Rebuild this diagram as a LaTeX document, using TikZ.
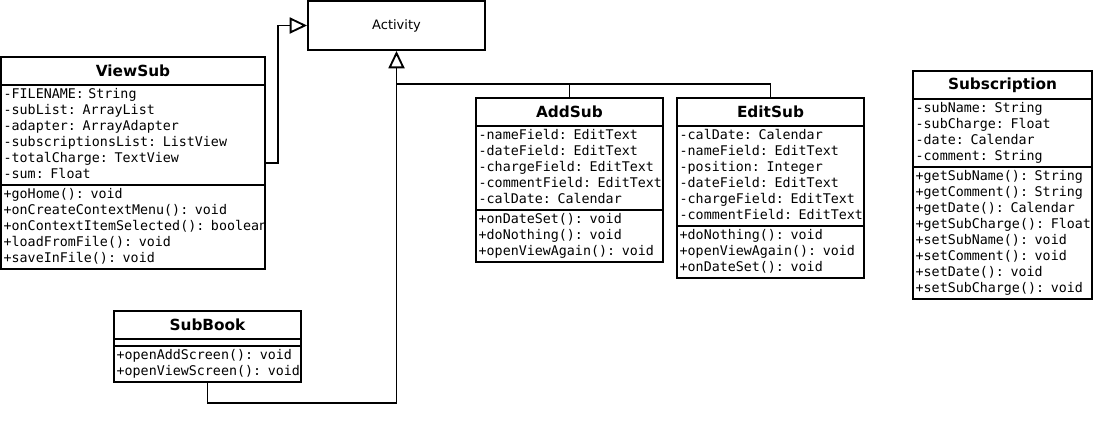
\documentclass[tikz,border=0pt]{standalone}
\usepackage{fontspec}
\setmainfont{DejaVu Sans}
\newfontfamily\umlmono[WordSpace={1,0,0}]{DejaVu Sans Mono}
\usetikzlibrary{positioning,arrows.meta,calc}

\tikzset{
  classname/.style={draw, line width=1.4pt, outer sep=0pt, inner sep=0pt, minimum width=#1, minimum height=21pt, font=\bfseries\fontsize{11.5}{13}\selectfont},
  members/.style={draw, line width=1.4pt, outer sep=0pt, inner xsep=2pt, inner ysep=1.5pt, text width=#1, align=left, font=\umlmono\fontsize{10}{12}\selectfont,
    execute at begin node={\strut\rightskip=0pt plus 1fil minus 2em\linepenalty=5000}, execute at end node=\strut},
  inherit/.style={line width=1.4pt, -{Triangle[open, length=13pt, width=12pt]}},
  link/.style={line width=1.4pt}
}

\begin{document}
\begin{tikzpicture}[x=0.75pt,y=-0.75pt]
    \useasboundingbox (0,0) rectangle (1093,436);
    % superclass
    \node[draw, line width=1.4pt, minimum width=132.75pt, minimum height=36.75pt, font=\fontsize{9.75}{12}\selectfont] (activity) at (396.5,25.5) {Activity};

    % ViewSub
    \node[classname=198pt, anchor=north west] (viewsub) at (1,57) {ViewSub};
    \node[members=194pt, below=0pt of viewsub] (viewsubAttr) {-FILENAME: String\\-subList: ArrayList\\-adapter: ArrayAdapter\\-subscriptionsList: ListView\\-totalCharge: TextView\\-sum: Float};
    \node[members=194pt, below=0pt of viewsubAttr] (viewsubOps) {+goHome(): void\\+onCreateContextMenu(): void\\+onContextItemSelected(): boolean\\+loadFromFile(): void\\+saveInFile(): void};

    % AddSub
    \node[classname=140.25pt, anchor=north west] (addsub) at (476,98) {AddSub};
    \node[members=136.25pt, below=0pt of addsub] (addsubAttr) {-nameField: EditText\\-dateField: EditText\\-chargeField: EditText\\-commentField: EditText\\-calDate: Calendar};
    \node[members=136.25pt, below=0pt of addsubAttr] (addsubOps) {+onDateSet(): void\\+doNothing(): void\\+openViewAgain(): void};

    % EditSub
    \node[classname=140.25pt, anchor=north west] (editsub) at (677,98) {EditSub};
    \node[members=136.25pt, below=0pt of editsub] (editsubAttr) {-calDate: Calendar\\-nameField: EditText\\-position: Integer\\-dateField: EditText\\-chargeField: EditText\\-commentField: EditText};
    \node[members=136.25pt, below=0pt of editsubAttr] (editsubOps) {+doNothing(): void\\+openViewAgain(): void\\+onDateSet(): void};

    % Subscription
    \node[classname=134.25pt, anchor=north west] (subscr) at (913,71) {Subscription};
    \node[members=130.25pt, below=0pt of subscr] (subscrAttr) {-subName: String\\-subCharge: Float\\-date: Calendar\\-comment: String};
    \node[members=130.25pt, below=0pt of subscrAttr] (subscrOps) {+getSubName(): String\\+getComment(): String\\+getDate(): Calendar\\+getSubCharge(): Float\\+setSubName(): void\\+setComment(): void\\+setDate(): void\\+setSubCharge(): void};

    % SubBook
    \node[classname=140.25pt, anchor=north west] (subbook) at (114,311) {SubBook};
    \node[draw, line width=1.4pt, outer sep=0pt, inner sep=0pt, minimum width=140.25pt, minimum height=5.25pt, below=0pt of subbook] (subbookAttr) {};
    \node[members=136.25pt, below=0pt of subbookAttr] (subbookOps) {+openAddScreen(): void\\+openViewScreen(): void};

    % generalisation
    \coordinate (viewsubMid) at ($(viewsub.north east)!0.5!(viewsubOps.south east)$);
    \coordinate (hub) at ($(activity.south)+(0,33)$);
    \draw[inherit] (viewsubMid) -- ++(13,0) |- (activity.west);
    \draw[inherit] (subbookOps.south) -- ++(0,21) -| (activity.south);
    \draw[link] (addsub.north) |- (hub);
    \draw[link] (editsub.north) |- (hub);
\end{tikzpicture}
\end{document}
